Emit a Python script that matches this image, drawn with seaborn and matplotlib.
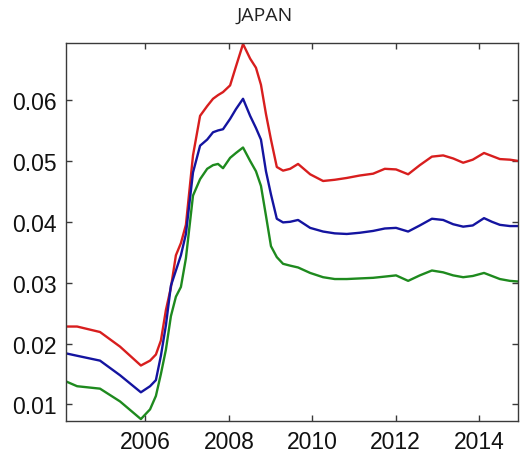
import numpy as np
import pandas as pd
import matplotlib
matplotlib.use("Agg")
import matplotlib.pyplot as plt
import seaborn as sns

# Sampling dates (decimal years)
dates = [2004.09, 2004.36, 2004.91, 2005.39, 2005.89, 2006.11, 2006.25, 2006.37,
         2006.49, 2006.61, 2006.73, 2006.85, 2006.97, 2007.14, 2007.31, 2007.48,
         2007.62, 2007.74, 2007.86, 2008.03, 2008.17, 2008.34, 2008.51, 2008.65,
         2008.77, 2008.89, 2009.01, 2009.15, 2009.30, 2009.47, 2009.66, 2009.95,
         2010.26, 2010.54, 2010.83, 2011.14, 2011.46, 2011.74, 2012.01, 2012.30,
         2012.58, 2012.87, 2013.14, 2013.38, 2013.62, 2013.85, 2014.12, 2014.31,
         2014.50, 2014.74, 2014.93]

upper = [0.0228, 0.0228, 0.0219, 0.0195, 0.0164, 0.0172, 0.0182, 0.0205,
         0.0255, 0.0292, 0.0345, 0.0365, 0.0395, 0.0509, 0.0574, 0.0590,
         0.0602, 0.0608, 0.0613, 0.0624, 0.0655, 0.0692, 0.0668, 0.0653,
         0.0625, 0.0577, 0.0535, 0.0490, 0.0484, 0.0487, 0.0495, 0.0478,
         0.0467, 0.0469, 0.0472, 0.0476, 0.0479, 0.0487, 0.0486, 0.0478,
         0.0493, 0.0507, 0.0509, 0.0504, 0.0497, 0.0502, 0.0513, 0.0508,
         0.0503, 0.0502, 0.0500]

middle = [0.0184, 0.0180, 0.0172, 0.0148, 0.0120, 0.0130, 0.0140, 0.0180,
          0.0230, 0.0295, 0.0320, 0.0345, 0.0380, 0.0481, 0.0525, 0.0535,
          0.0547, 0.0550, 0.0552, 0.0569, 0.0585, 0.0602, 0.0574, 0.0554,
          0.0535, 0.0483, 0.0445, 0.0405, 0.0399, 0.0400, 0.0403, 0.0390,
          0.0384, 0.0381, 0.0380, 0.0382, 0.0385, 0.0389, 0.0390, 0.0384,
          0.0394, 0.0405, 0.0403, 0.0396, 0.0392, 0.0394, 0.0406, 0.0400,
          0.0395, 0.0393, 0.0393]

lower = [0.0138, 0.0130, 0.0126, 0.0105, 0.0076, 0.0092, 0.0114, 0.0150,
         0.0190, 0.0245, 0.0277, 0.0293, 0.0340, 0.0443, 0.0470, 0.0487,
         0.0493, 0.0495, 0.0488, 0.0505, 0.0513, 0.0522, 0.0500, 0.0483,
         0.0459, 0.0410, 0.0360, 0.0342, 0.0331, 0.0328, 0.0325, 0.0316,
         0.0309, 0.0306, 0.0306, 0.0307, 0.0308, 0.0310, 0.0312, 0.0303,
         0.0312, 0.0320, 0.0317, 0.0312, 0.0309, 0.0311, 0.0316, 0.0311,
         0.0306, 0.0303, 0.0302]

series_names = ["upper", "middle", "lower"]
series_colors = ["#d81e1e", "#1414a0", "#1e8a1e"]
xticks = [2006, 2008, 2010, 2012, 2014]
yticks = [0.01, 0.02, 0.03, 0.04, 0.05, 0.06]
title = "JAPAN"

df = pd.DataFrame({
    "date": dates * 3,
    "value": upper + middle + lower,
    "series": np.repeat(series_names, len(dates)),
})

sns.set_style("white")
plt.rcParams["font.family"] = ["Liberation Sans", "DejaVu Sans"]

fig = plt.figure(figsize=(5.29, 4.60), dpi=100)
ax = fig.add_axes([66 / 529, 1 - 421.5 / 460, (518 - 66) / 529, (421.5 - 44) / 460])

sns.lineplot(data=df, x="date", y="value", hue="series",
             palette=dict(zip(series_names, series_colors)),
             hue_order=series_names, linewidth=1.7, legend=False, ax=ax)

ax.set_xlim(2004.094, 2014.935)
ax.set_ylim(0.00737, 0.06936)
ax.set_xticks(xticks)
ax.set_yticks(yticks)
ax.set_xticklabels([str(t) for t in xticks])
ax.set_yticklabels([f"{t:.2f}" for t in yticks])
ax.set_xlabel("")
ax.set_ylabel("")

for s in ax.spines.values():
    s.set_visible(True)
    s.set_color("#3a3a3a")
    s.set_linewidth(1.0)

ax.tick_params(direction="in", length=4.5, width=1.0, color="#3a3a3a",
               top=True, right=True, bottom=True, left=True,
               labelsize=16.5, labelcolor="#111111", pad=7)

fig.text(0.5004, 1 - 15.8 / 460, title, ha="center", va="center",
         fontsize=14, color="#222222", family=["Open Sans", "DejaVu Sans"])

fig.savefig("out.png", dpi=100, facecolor="white")
